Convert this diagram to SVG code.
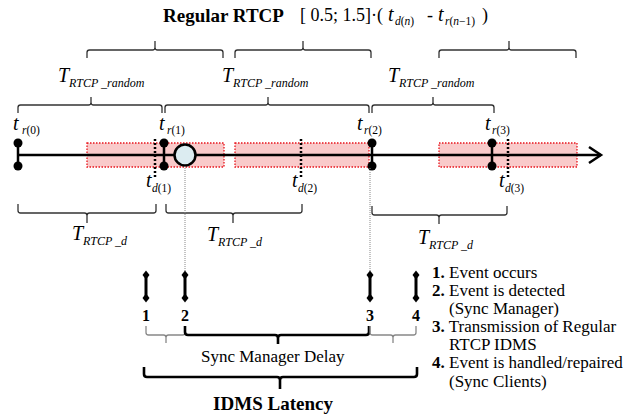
<svg xmlns="http://www.w3.org/2000/svg" width="623" height="414" viewBox="0 0 623 414">
  <style>
    text { font-family: "Liberation Serif", "Times New Roman", serif; fill: #000; }
    .title { font-size: 19px; font-weight: bold; }
    .formula { font-size: 18px; }
    .var { font-size: 20px; font-style: italic; }
    .sub { font-size: 11.5px; }
    .subT { font-size: 12px; font-style: italic; }
    .it { font-style: italic; }
    .num { font-size: 16px; font-weight: bold; text-anchor: middle; }
    .legend { font-size: 17px; }
    .b { font-weight: bold; }
    .brace { fill: none; stroke: #333; stroke-width: 1.3; }
    .brace-g { fill: none; stroke: #888; stroke-width: 1.3; }
    .brace-k { fill: none; stroke: #000; stroke-width: 2.6; }
    .window { fill: #f9caca; stroke: #e8141c; stroke-width: 1.3; stroke-dasharray: 1.5 1.5; }
    .axis { fill: none; stroke: #000; stroke-width: 2.5; }
    .tick { stroke: #000; stroke-width: 2.5; }
    .dot { fill: #000; }
    .tdline { stroke: #000; stroke-width: 2.5; stroke-dasharray: 2 2; }
    .guide { stroke: #888; stroke-width: 1; stroke-dasharray: 1 1; }
    .evline { stroke: #000; stroke-width: 3; }
  </style>
  <defs>
    <path id="diamond" d="M0 -4.5 L3.5 0 L0 4.5 L-3.5 0 Z" fill="#000"/>
  </defs>

  <!-- heading -->
  <g id="heading">
    <text class="title" x="163" y="22">Regular RTCP</text>
    <text class="formula" x="300" y="21">[ 0.5; 1.5]·(</text>
    <text class="var" x="388" y="21">t</text>
    <text class="sub" x="395" y="25"><tspan class="it">d</tspan>(<tspan class="it">n</tspan>)</text>
    <text class="formula" x="427" y="21">-</text>
    <text class="var" x="438" y="21">t</text>
    <text class="sub" x="445" y="25"><tspan class="it">r</tspan>(<tspan class="it">n</tspan>−1)</text>
    <text class="formula" x="482" y="21">)</text>
  </g>

  <!-- random report intervals -->
  <g id="random-intervals">
    <path class="brace" d="M87 58 V52.5 Q87 50 89.5 50 H152.5 Q155 50 155 47.5 V41 M155 47.5 Q155 50 157.5 50 H220.5 Q223 50 223 52.5 V58"/>
    <path class="brace" d="M235 58 V52.5 Q235 50 237.5 50 H300.5 Q303 50 303 47.5 V41 M303 47.5 Q303 50 305.5 50 H368.5 Q371 50 371 52.5 V58"/>
    <path class="brace" d="M439 58 V52.5 Q439 50 441.5 50 H506.5 Q509 50 509 47.5 V41 M509 47.5 Q509 50 511.5 50 H573.5 Q576 50 576 52.5 V58"/>

    <text class="var" x="58" y="82">T</text>
    <text class="subT" x="69" y="87">RTCP _random</text>
    <text class="var" x="222" y="82">T</text>
    <text class="subT" x="233" y="87">RTCP _random</text>
    <text class="var" x="388" y="82">T</text>
    <text class="subT" x="399" y="87">RTCP _random</text>

    <path class="brace" d="M18 113 V107.5 Q18 105 20.5 105 H88.5 Q91 105 91 102.5 V97 M91 102.5 Q91 105 93.5 105 H159.5 Q162 105 162 107.5 V113"/>
    <path class="brace" d="M165 113 V107.5 Q165 105 167.5 105 H265.5 Q268 105 268 102.5 V97 M268 102.5 Q268 105 270.5 105 H366.5 Q369 105 369 107.5 V113"/>
    <path class="brace" d="M372 113 V107.5 Q372 105 374.5 105 H430.5 Q433 105 433 102.5 V97 M433 102.5 Q433 105 435.5 105 H491.5 Q494 105 494 107.5 V113"/>
  </g>

  <!-- shaded transmission windows -->
  <g id="windows">
    <rect class="window" x="87" y="143" width="137" height="24"/>
    <rect class="window" x="235" y="143" width="134" height="24"/>
    <rect class="window" x="439" y="143" width="138" height="24"/>
  </g>

  <!-- time axis -->
  <g id="axis">
    <line class="axis" x1="18" y1="155" x2="601" y2="155"/>
    <polyline class="axis" points="589,147 601,155 589,163"/>
  </g>

  <!-- report instants t_r -->
  <g id="tr0">
    <line class="tick" x1="18" y1="143" x2="18" y2="166"/>
    <circle class="dot" cx="18" cy="143" r="4.5"/>
    <circle class="dot" cx="18" cy="166" r="4.5"/>
    <text class="var" x="13" y="130">t</text>
    <text class="sub" x="22" y="134"><tspan class="it">r</tspan>(0)</text>
  </g>
  <g id="tr1">
    <line class="tick" x1="164" y1="143" x2="164" y2="166"/>
    <circle class="dot" cx="164" cy="143" r="4.5"/>
    <circle class="dot" cx="164" cy="166" r="4.5"/>
    <text class="var" x="159" y="130">t</text>
    <text class="sub" x="167" y="134"><tspan class="it">r</tspan>(1)</text>
  </g>
  <g id="tr2">
    <line class="tick" x1="372" y1="143" x2="372" y2="166"/>
    <circle class="dot" cx="372" cy="143" r="4.5"/>
    <circle class="dot" cx="372" cy="166" r="4.5"/>
    <text class="var" x="357" y="130">t</text>
    <text class="sub" x="364" y="134"><tspan class="it">r</tspan>(2)</text>
  </g>
  <g id="tr3">
    <line class="tick" x1="492" y1="143" x2="492" y2="166"/>
    <circle class="dot" cx="492" cy="143" r="4.5"/>
    <circle class="dot" cx="492" cy="166" r="4.5"/>
    <text class="var" x="485" y="130">t</text>
    <text class="sub" x="492" y="134"><tspan class="it">r</tspan>(3)</text>
  </g>

  <!-- deadline instants t_d -->
  <g id="td1">
    <line class="tdline" x1="155" y1="139" x2="155" y2="177"/>
    <text class="var" x="146" y="187">t</text>
    <text class="sub" x="152" y="192"><tspan class="it">d</tspan>(1)</text>
  </g>
  <g id="td2">
    <line class="tdline" x1="301" y1="139" x2="301" y2="177"/>
    <text class="var" x="292" y="187">t</text>
    <text class="sub" x="298" y="192"><tspan class="it">d</tspan>(2)</text>
  </g>
  <g id="td3">
    <line class="tdline" x1="508" y1="139" x2="508" y2="177"/>
    <text class="var" x="499" y="187">t</text>
    <text class="sub" x="505" y="192"><tspan class="it">d</tspan>(3)</text>
  </g>

  <!-- event -->
  <g id="event">
    <circle cx="185" cy="155" r="10.5" fill="#dcecf1" stroke="#000" stroke-width="2.5"/>
  </g>

  <!-- deadline intervals -->
  <g id="deadline-intervals">
    <path class="brace" d="M18 204 V210.5 Q18 213 20.5 213 H84.5 Q87 213 87 215.5 V223 M87 215.5 Q87 213 89.5 213 H153.5 Q156 213 156 210.5 V204"/>
    <path class="brace" d="M166 204 V210.5 Q166 213 168.5 213 H230.5 Q233 213 233 215.5 V223 M233 215.5 Q233 213 235.5 213 H299.5 Q302 213 302 210.5 V204"/>
    <path class="brace" d="M372 206 V212.5 Q372 215 374.5 215 H436.5 Q439 215 439 217.5 V224 M439 217.5 Q439 215 441.5 215 H504.5 Q507 215 507 212.5 V206"/>
    <text class="var" x="72" y="240">T</text>
    <text class="subT" x="83" y="245">RTCP _d</text>
    <text class="var" x="207" y="241">T</text>
    <text class="subT" x="218" y="246">RTCP _d</text>
    <text class="var" x="418" y="244">T</text>
    <text class="subT" x="429" y="249">RTCP _d</text>
  </g>

  <!-- guides from the axis to the event markers -->
  <g id="connectors">
    <line class="guide" x1="185" y1="166" x2="185" y2="274"/>
    <line class="guide" x1="370" y1="168" x2="370" y2="274"/>
  </g>

  <!-- event markers 1-4 -->
  <g id="marker1">
    <line class="evline" x1="146" y1="275" x2="146" y2="298"/>
    <use href="#diamond" x="146" y="275"/>
    <use href="#diamond" x="146" y="298"/>
    <text class="num" x="146" y="321">1</text>
  </g>
  <g id="marker2">
    <line class="evline" x1="185" y1="275" x2="185" y2="298"/>
    <use href="#diamond" x="185" y="275"/>
    <use href="#diamond" x="185" y="298"/>
    <text class="num" x="185" y="321">2</text>
  </g>
  <g id="marker3">
    <line class="evline" x1="370" y1="275" x2="370" y2="298"/>
    <use href="#diamond" x="370" y="275"/>
    <use href="#diamond" x="370" y="298"/>
    <text class="num" x="370" y="321">3</text>
  </g>
  <g id="marker4">
    <line class="evline" x1="416" y1="275" x2="416" y2="298"/>
    <use href="#diamond" x="416" y="275"/>
    <use href="#diamond" x="416" y="298"/>
    <text class="num" x="416" y="321">4</text>
  </g>

  <!-- latency breakdown -->
  <g id="latency">
    <path class="brace-g" d="M146 326 V332.5 Q146 335 148.5 335 H163.5 Q166 335 166 337.5 V343 M166 337.5 Q166 335 168.5 335 H182.5 Q185 335 185 332.5 V326"/>
    <path class="brace-k" d="M185 326 V332 Q185 335 188 335 H275 Q278 335 278 338 V344 M278 338 Q278 335 281 335 H366 Q369 335 369 332 V326"/>
    <path class="brace-g" d="M370 326 V332.5 Q370 335 372.5 335 H390.5 Q393 335 393 337.5 V343 M393 337.5 Q393 335 395.5 335 H413.5 Q416 335 416 332.5 V326"/>
    <text class="legend" x="201" y="362" font-size="18">Sync Manager Delay</text>
    <path class="brace-k" d="M144 367 V374 Q144 377 147 377 H277 Q280 377 280 380 V389 M280 380 Q280 377 283 377 H414 Q417 377 417 374 V367" stroke-width="3"/>
    <text class="title" x="273" y="410" text-anchor="middle">IDMS Latency</text>
  </g>

  <!-- legend -->
  <g id="legend">
    <text class="legend" x="432" y="278"><tspan class="b">1.</tspan> Event occurs</text>
    <text class="legend" x="432" y="296"><tspan class="b">2.</tspan> Event is detected</text>
    <text class="legend" x="449" y="314">(Sync Manager)</text>
    <text class="legend" x="432" y="332"><tspan class="b">3.</tspan> Transmission of Regular</text>
    <text class="legend" x="449" y="350">RTCP IDMS</text>
    <text class="legend" x="432" y="368"><tspan class="b">4.</tspan> Event is handled/repaired</text>
    <text class="legend" x="449" y="387">(Sync Clients)</text>
  </g>
</svg>
